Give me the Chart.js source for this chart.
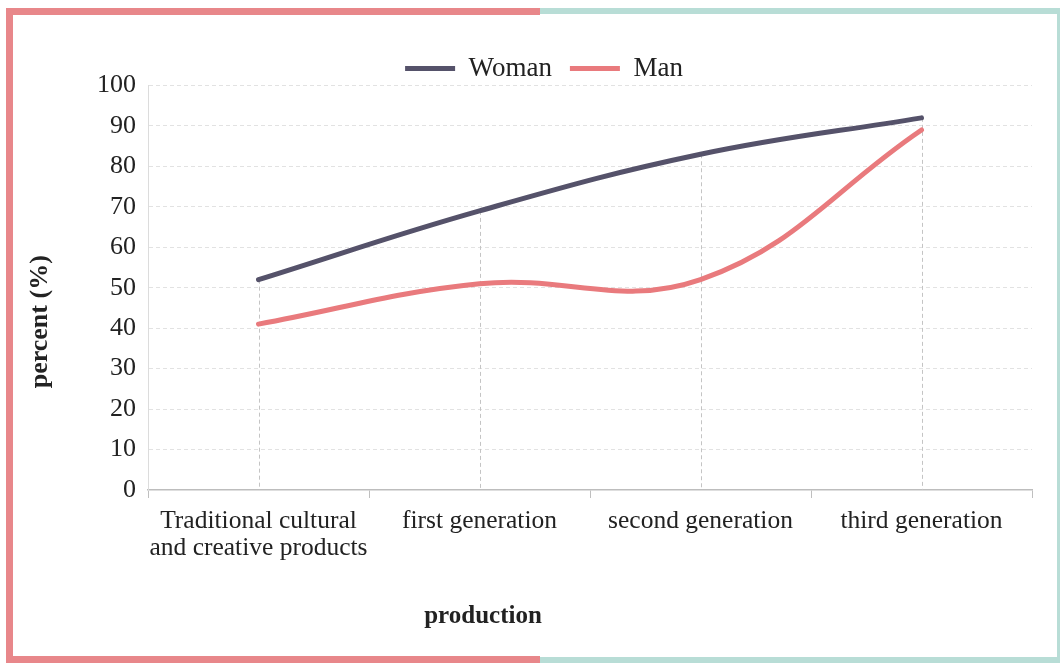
<!DOCTYPE html>
<html>
<head>
<meta charset="utf-8">
<script src="https://cdn.jsdelivr.net/npm/chart.js@4"></script>
<style>
  html, body { margin: 0; padding: 0; background: #ffffff; }
  #wrap { position: relative; width: 1062px; height: 666px; overflow: hidden; }
  #wrap canvas { position: absolute; left: 0; top: 0; }
  .bar { position: absolute; }
</style>
</head>
<body>
<div id="wrap">
  <canvas id="c" width="1062" height="666"></canvas>
  <div class="bar" style="left:6px;top:8px;width:534px;height:7px;background:#e8878a;"></div>
  <div class="bar" style="left:540px;top:8px;width:520px;height:6px;background:#b8ddd6;"></div>
  <div class="bar" style="left:6px;top:8px;width:7px;height:655px;background:#e8878a;"></div>
  <div class="bar" style="left:6px;top:656px;width:534px;height:7px;background:#e8878a;"></div>
  <div class="bar" style="left:540px;top:657px;width:520px;height:6px;background:#b8ddd6;"></div>
  <div class="bar" style="left:1057px;top:8px;width:3px;height:655px;background:#b8ddd6;"></div>
</div>
<script>
const categories = [["Traditional cultural", "and creative products"], "first generation", "second generation", "third generation"];
const womanValues = [52, 69, 83, 92];
const manValues = [41, 51, 52, 89];
const yTicks = { min: 0, max: 100, step: 10 };

const FONT = "'Liberation Serif', 'Times New Roman', serif";
const TEXT = "#222222";
const WOMAN = "#55526a";
const MAN = "#e97a7d";

const dropLines = {
  id: 'dropLines',
  beforeDatasetsDraw(chart) {
    const ctx = chart.ctx;
    const area = chart.chartArea;
    const metas = chart.data.datasets.map((d, i) => chart.getDatasetMeta(i));
    const n = chart.data.labels.length;
    ctx.save();
    ctx.strokeStyle = '#c4c4c4';
    ctx.lineWidth = 1;
    ctx.setLineDash([4, 3]);
    for (let i = 0; i < n; i++) {
      let top = Infinity, x = null;
      metas.forEach(m => { const p = m.data[i]; if (p) { top = Math.min(top, p.y); x = p.x; } });
      if (x === null) continue;
      ctx.beginPath();
      ctx.moveTo(Math.round(x) + 0.5, top);
      ctx.lineTo(Math.round(x) + 0.5, area.bottom);
      ctx.stroke();
    }
    ctx.restore();
  }
};

// Trim legend box height and nudge it, like the reference layout
const legendTweak = {
  id: 'legendTweak',
  beforeInit(chart) {
    const lg = chart.legend;
    if (!lg) return;
    const origFit = lg.fit;
    lg.fit = function () { origFit.call(this); this.height -= 6.5; };
    const origDraw = lg.draw;
    lg.draw = function () {
      const ctx = this.ctx;
      ctx.save();
      ctx.translate(17, 0);
      origDraw.call(this);
      ctx.restore();
    };
  }
};

function shiftTitle(scale, dx, dy) {
  if (scale._titleShifted) return;
  scale._titleShifted = true;
  const orig = scale.drawTitle;
  scale.drawTitle = function () {
    const ctx = this.ctx;
    ctx.save();
    ctx.translate(dx, dy);
    orig.apply(this, arguments);
    ctx.restore();
  };
}

new Chart(document.getElementById('c'), {
  type: 'line',
  data: {
    labels: categories,
    datasets: [
      { label: 'Woman', data: womanValues, borderColor: WOMAN, backgroundColor: WOMAN, borderWidth: 5, tension: 0.4, pointRadius: 0, fill: false, borderCapStyle: 'round' },
      { label: 'Man', data: manValues, borderColor: MAN, backgroundColor: MAN, borderWidth: 5, tension: 0.4, pointRadius: 0, fill: false, borderCapStyle: 'round' }
    ]
  },
  options: {
    responsive: false,
    animation: false,
    devicePixelRatio: 1,
    layout: { padding: { left: 22, right: 30, top: 37, bottom: 30 } },
    plugins: {
      tooltip: { enabled: false },
      legend: {
        position: 'top',
        align: 'center',
        labels: {
          color: TEXT,
          font: { family: FONT, size: 27 },
          boxWidth: 50,
          boxHeight: 5,
          padding: 18,
          useBorderRadius: true,
          borderRadius: 2.5,
          generateLabels(chart) {
            return chart.data.datasets.map((d, i) => ({
              text: d.label,
              fillStyle: d.borderColor,
              strokeStyle: d.borderColor,
              lineWidth: 0,
              fontColor: TEXT,
              datasetIndex: i,
              hidden: false
            }));
          }
        }
      }
    },
    scales: {
      x: {
        type: 'category',
        offset: true,
        afterFit(s) { s.height = 146; shiftTitle(s, -107, 5); },
        grid: { display: true, offset: true, drawOnChartArea: false, drawTicks: true, tickLength: 8, color: '#bfbfbf', lineWidth: 1 },
        border: { display: true, color: '#bdbdbd', width: 1.5 },
        ticks: { color: TEXT, font: { family: FONT, size: 25.5, lineHeight: 1.06 }, padding: 10, maxRotation: 0, autoSkip: false },
        title: { display: true, text: 'production', color: TEXT, font: { family: FONT, size: 25, weight: 'bold', lineHeight: 1.2 }, padding: { top: 0, bottom: 9 } }
      },
      y: {
        min: yTicks.min,
        max: yTicks.max,
        afterFit(s) { s.width = 126; shiftTitle(s, 0, 34); },
        grid: { display: true, drawTicks: false, color: (c) => (c.tick && c.tick.value === 0) ? 'rgba(0,0,0,0)' : '#e2e2e2', lineWidth: 1 },
        border: { display: true, color: '#dcdcdc', width: 1, dash: [4, 3] },
        ticks: { stepSize: yTicks.step, color: TEXT, font: { family: FONT, size: 26 }, padding: 12 },
        title: { display: true, text: 'percent (%)', color: TEXT, font: { family: FONT, size: 26, weight: 'bold', lineHeight: 1.2 }, padding: { top: 3, bottom: 0 } }
      }
    }
  },
  plugins: [dropLines, legendTweak]
});
</script>
</body>
</html>
